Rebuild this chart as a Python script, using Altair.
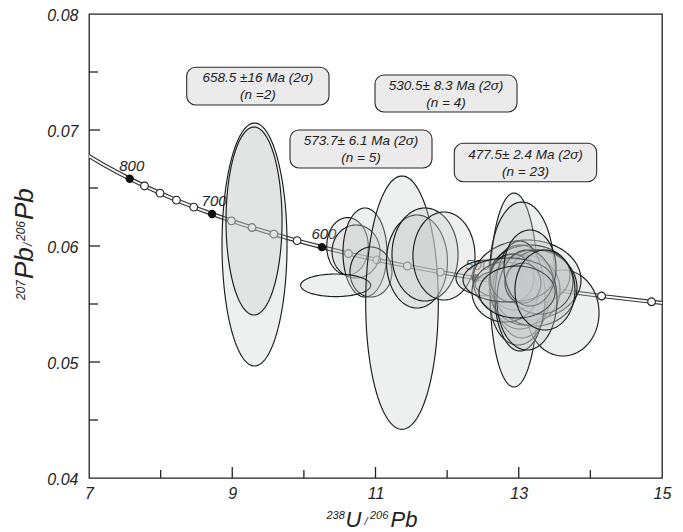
import numpy as np
import pandas as pd
import altair as alt

# ---------------- data ----------------
# Tera-Wasserburg concordia (age in Ma, 238U/206Pb, 207Pb/206Pb)
conc_age = [861, 840, 820, 800, 780, 760, 740, 720, 700, 680, 660, 640, 620,
            600, 580, 560, 540, 520, 500, 480, 460, 440, 420, 416]
conc_x = [6.998, 7.1851, 7.3721, 7.5684, 7.7747, 7.9920, 8.2209, 8.4627, 8.7182,
          8.9888, 9.2758, 9.5808, 9.9055, 10.2518, 10.6220, 11.0187, 11.4448,
          11.9037, 12.3993, 12.9362, 13.5199, 14.1566, 14.854, 15.0015]
conc_y = [0.067753, 0.067072, 0.066432, 0.065800, 0.065176, 0.064559, 0.063950,
          0.063350, 0.062757, 0.062171, 0.061593, 0.061022, 0.060458, 0.059901,
          0.059351, 0.058808, 0.058272, 0.057742, 0.057220, 0.056703, 0.056193,
          0.055689, 0.055192, 0.055093]
marker_min, marker_max = 420, 800
filled_ages = [500, 600, 700, 800]

# error ellipses: group, centre x, centre y, half-width x, half-height y
ell_group = ["658"] * 2 + ["574"] * 5 + ["531"] * 4 + ["478"] * 23
ell_x = [9.311, 9.304,
         10.609, 10.728, 10.853, 10.937, 10.444,
         11.370, 11.579, 11.691, 11.956,
         12.585, 12.934, 13.618, 13.115, 13.045, 13.017, 12.906, 12.878, 13.157,
         12.990, 13.087, 12.948, 13.227, 12.808, 13.017, 13.297, 12.906, 13.115,
         12.850, 13.059, 13.157, 12.976, 13.366]
ell_y = [0.060129, 0.062155,
         0.059974, 0.059526, 0.059440, 0.057759, 0.056612,
         0.055112, 0.058664, 0.059267, 0.059138,
         0.057241, 0.056207, 0.054224, 0.057069, 0.057931, 0.056466, 0.056724,
         0.056638, 0.057500, 0.055345, 0.056207, 0.056897, 0.056380, 0.056034,
         0.055690, 0.056897, 0.057241, 0.055345, 0.057069, 0.056810, 0.058103,
         0.056034, 0.056207]
ell_rx = [0.454, 0.391,
          0.290, 0.335, 0.307, 0.293, 0.489,
          0.507, 0.426, 0.461, 0.433,
          0.461, 0.335, 0.503, 0.754, 0.447, 0.419, 0.517, 0.223, 0.558, 0.391,
          0.489, 0.363, 0.586, 0.461, 0.349, 0.461, 0.307, 0.419, 0.628, 0.251,
          0.363, 0.531, 0.419]
ell_ry = [0.010474, 0.008103,
          0.002474, 0.002284, 0.003836, 0.002155, 0.000974,
          0.010922, 0.004009, 0.004009, 0.003793,
          0.001552, 0.008362, 0.003707, 0.003448, 0.005862, 0.003621, 0.001293,
          0.000862, 0.002586, 0.003879, 0.003017, 0.002414, 0.003276, 0.002586,
          0.004741, 0.002759, 0.002069, 0.004310, 0.001897, 0.001724, 0.003276,
          0.002241, 0.003448]

# age boxes
box_line1 = ["658.5 \u00b116 Ma (2\u03c3)", "530.5\u00b1 8.3 Ma (2\u03c3)",
             "573.7\u00b1 6.1 Ma (2\u03c3)", "477.5\u00b1 2.4 Ma (2\u03c3)"]
box_line2 = ["(n =2)", "(n = 4)", "(n = 5)", "(n = 23)"]
box_x1 = [8.364, 10.993, 9.806, 12.100]
box_x2 = [10.351, 12.976, 11.789, 14.088]
box_y1 = [0.075405, 0.074741, 0.070000, 0.068853]
box_y2 = [0.072155, 0.071552, 0.066724, 0.065543]

x_labels = [7, 9, 11, 13, 15]
y_labels = [0.04, 0.05, 0.06, 0.07, 0.08]
x_major = [9, 11, 13]
x_minor = [8, 10, 12, 14]
y_major = [0.05, 0.06, 0.07]
y_minor = [0.045, 0.055, 0.065, 0.075]

# ---------------- tables ----------------
FONT = "Liberation Sans"
INK = "#222222"
W, H = 573, 464

conc = pd.DataFrame({"age": conc_age, "x": conc_x, "y": conc_y})
marks = conc[(conc.age >= marker_min) & (conc.age <= marker_max)].copy()
marks["filled"] = marks.age.isin(filled_ages)
labels = marks[marks.filled].copy()
labels["lab"] = labels.age.astype(str)

theta = np.linspace(0, np.pi, 81)
rows = []
for i, (g, cx, cy, rx, ry) in enumerate(zip(ell_group, ell_x, ell_y, ell_rx, ell_ry)):
    for t in theta:
        rows.append({"id": i, "group": g,
                     "x": cx - rx * np.cos(t),
                     "ytop": cy + ry * np.sin(t),
                     "ybot": cy - ry * np.sin(t)})
ell = pd.DataFrame(rows)

boxes = pd.DataFrame({"x1": box_x1, "x2": box_x2, "y1": box_y1, "y2": box_y2,
                      "l1": box_line1, "l2": box_line2})
boxes["cx"] = (boxes.x1 + boxes.x2) / 2
boxes["cy"] = (boxes.y1 + boxes.y2) / 2

xs = alt.Scale(domain=[7, 15], nice=False, zero=False)
ys = alt.Scale(domain=[0.04, 0.08], nice=False, zero=False)
X_AX = alt.Axis(values=x_labels, format="d", title=None, ticks=False, domain=False, grid=False,
                labelFont=FONT, labelFontSize=16, labelFontStyle="italic", labelColor=INK,
                labelPadding=7, labelFlush=False)
Y_AX = alt.Axis(values=y_labels, format=".2f", title=None, ticks=False, domain=False, grid=False,
                labelFont=FONT, labelFontSize=16, labelFontStyle="italic", labelColor=INK,
                labelPadding=11, labelFlush=False, labelOffset=1)


def X(f):
    return alt.X(f, scale=xs, axis=X_AX)


def Y(f):
    return alt.Y(f, scale=ys, axis=Y_AX)


# ---------------- layers ----------------
def xticks(vals, length):
    return alt.Chart(pd.DataFrame({"x": vals})).mark_rule(color=INK, strokeWidth=1.3).encode(
        x=X("x:Q"), y=alt.value(H), y2=alt.value(H - length))


def yticks(vals, length):
    return alt.Chart(pd.DataFrame({"y": vals})).mark_rule(color=INK, strokeWidth=1.3).encode(
        y=Y("y:Q"), x=alt.value(0), x2=alt.value(length))


conc_outer = alt.Chart(conc).mark_line(color="#333333", strokeWidth=4.2, clip=True).encode(
    x=X("x:Q"), y=Y("y:Q"), order="age:Q")
conc_inner = alt.Chart(conc).mark_line(color="white", strokeWidth=1.8, clip=True).encode(
    x=X("x:Q"), y=Y("y:Q"), order="age:Q")

open_pts = alt.Chart(marks[~marks.filled]).mark_point(shape="circle", filled=True, fill="white",
                                                     stroke="#222222", strokeWidth=1.1, size=60,
                                                     opacity=1).encode(x=X("x:Q"), y=Y("y:Q"))
black_pts = alt.Chart(marks[marks.filled]).mark_point(shape="circle", filled=True, fill="#111111",
                                                     stroke="#111111", size=40,
                                                     opacity=1).encode(x=X("x:Q"), y=Y("y:Q"))
age_text = alt.Chart(labels).mark_text(font=FONT, fontSize=15, fontStyle="italic", color=INK,
                                       dx=2, dy=-13).encode(x=X("x:Q"), y=Y("y:Q"), text="lab:N")

ellipses = alt.Chart(ell).mark_area(fill="#c6cbcb", fillOpacity=0.3, stroke="#1c1c1c",
                                    strokeWidth=1.15, clip=True).encode(
    x=X("x:Q"), y=Y("ytop:Q"), y2="ybot:Q", detail="id:N")

box_rect = alt.Chart(boxes).mark_rect(fill="#ebebeb", stroke="#2a2a2a", strokeWidth=1.1,
                                      cornerRadius=9).encode(
    x=X("x1:Q"), x2="x2:Q", y=Y("y1:Q"), y2="y2:Q")
box_t1 = alt.Chart(boxes).mark_text(font=FONT, fontSize=13.5, fontStyle="italic", color=INK, dy=-8,
                                    baseline="middle").encode(x=X("cx:Q"), y=Y("cy:Q"), text="l1:N")
box_t2 = alt.Chart(boxes).mark_text(font=FONT, fontSize=13.5, fontStyle="italic", color=INK, dy=9,
                                    baseline="middle").encode(x=X("cx:Q"), y=Y("cy:Q"), text="l2:N")

one = pd.DataFrame({"a": [0]})


def piece(txt, x, y, size, angle=0):
    kw = dict(text=txt, font=FONT, fontSize=size, fontStyle="italic", color=INK,
              align="left", baseline="alphabetic")
    if angle:
        kw["angle"] = angle
    return alt.Chart(one).mark_text(**kw).encode(x=alt.value(x), y=alt.value(y))


xtitle = [piece("238", 237.5, 505, 11), piece("U", 256.5, 513, 22), piece("/", 275.5, 511, 11),
          piece("206", 281, 505, 11), piece("Pb", 301.5, 513, 22)]
ytitle = [piece("207", -64.5, 286, 12, 270), piece("Pb", -56, 265, 26, 270),
          piece("/", -57, 232, 12, 270), piece("206", -64.5, 227, 12, 270),
          piece("Pb", -56, 206, 26, 270)]

chart = alt.layer(
    conc_outer, conc_inner, open_pts, black_pts, age_text,
    ellipses,
    box_rect, box_t1, box_t2,
    xticks(x_major, 11), xticks(x_minor, 8), yticks(y_major, 11), yticks(y_minor, 9),
    *xtitle, *ytitle,
).properties(
    width=W, height=H,
    padding={"left": 81, "top": 6, "right": 12, "bottom": 60},
    autosize=alt.AutoSizeParams(type="none"),
).configure_view(stroke=INK, strokeWidth=1.3)

chart.save("out.html", embed_options={"renderer": "svg", "actions": False})
